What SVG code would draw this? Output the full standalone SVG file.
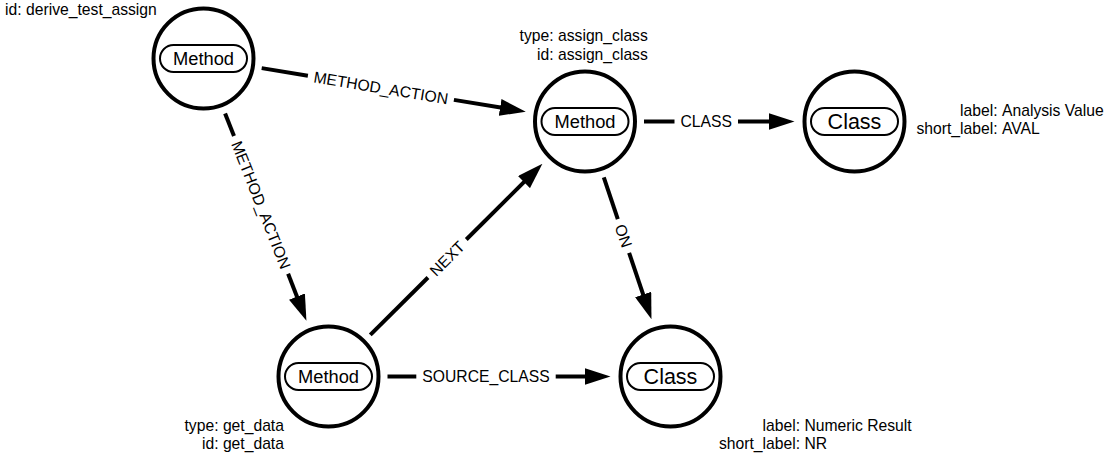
<svg xmlns="http://www.w3.org/2000/svg" width="1110" height="456" viewBox="0 0 1110 456">
<style>
text{font-family:"Liberation Sans",Arial,sans-serif;fill:#000}
.ring{fill:#fff;stroke:#000;stroke-width:4}
.pill{fill:#fff;stroke:#000;stroke-width:2}
.m{font-size:18.3px;text-anchor:middle}
.c{font-size:21.5px;text-anchor:middle}
.p{font-size:15.7px}
.k{text-anchor:end}
.el{font-size:15.7px;text-anchor:middle}
.e{stroke:#000;stroke-width:4;fill:none}
</style>
<defs>
<marker id="ah" viewBox="0 0 26 17" refX="2" refY="8.5" markerWidth="26" markerHeight="17" markerUnits="userSpaceOnUse" orient="auto">
<path d="M0,0 L26,8.5 L0,17 Z" fill="#000"/>
</marker>
</defs>
<rect width="1110" height="456" fill="#fff"/>
<g id="connectors">
<g id="e1">
<line class="e" x1="261.7" y1="68.1" x2="307.9" y2="75.7"/>
<line class="e" x1="453.9" y1="99.9" x2="502.1" y2="107.8" marker-end="url(#ah)"/>
<text class="el" transform="translate(380.9,87.8) rotate(9.38)" dy=".35em">METHOD_ACTION</text>
</g>
<g id="e2">
<line class="e" x1="225.1" y1="113.4" x2="234.0" y2="136.1"/>
<line class="e" x1="288.1" y1="273.8" x2="297.7" y2="298.4" marker-end="url(#ah)"/>
<text class="el" transform="translate(261.05,204.95) rotate(68.5)" dy=".35em">METHOD_ACTION</text>
</g>
<g id="e3">
<line class="e" x1="370.3" y1="334.9" x2="428.0" y2="277.5"/>
<line class="e" x1="466.3" y1="239.5" x2="525.4" y2="180.7" marker-end="url(#ah)"/>
<text class="el" transform="translate(447.2,258.5) rotate(-44.8)" dy=".35em">NEXT</text>
</g>
<g id="e4">
<line class="e" x1="644" y1="121.5" x2="674.5" y2="121.5"/>
<line class="e" x1="738" y1="121.5" x2="770.5" y2="121.5" marker-end="url(#ah)"/>
<text class="el" x="706.25" y="121.5" dy=".35em">CLASS</text>
</g>
<g id="e5">
<line class="e" x1="603.8" y1="177.4" x2="617.8" y2="219.1"/>
<line class="e" x1="629.1" y1="252.8" x2="643.8" y2="296.4" marker-end="url(#ah)"/>
<text class="el" transform="translate(623.45,235.95) rotate(71.4)" dy=".35em">ON</text>
</g>
<g id="e6">
<line class="e" x1="387.5" y1="376.5" x2="416.3" y2="376.5"/>
<line class="e" x1="555.7" y1="376.5" x2="586.5" y2="376.5" marker-end="url(#ah)"/>
<text class="el" x="486" y="376.5" dy=".35em">SOURCE_CLASS</text>
</g>
</g>
<g id="n1">
<circle class="ring" cx="203.5" cy="58.5" r="50"/>
<rect class="pill" x="160" y="45" width="87" height="27" rx="13.5"/>
<text class="m" x="203.5" y="58.5" dy=".35em">Method</text>
<text class="p k" x="21.6" y="15">id:</text>
<text class="p" x="26" y="15">derive_test_assign</text>
</g>
<g id="n2">
<circle class="ring" cx="585" cy="121.5" r="50"/>
<rect class="pill" x="541.5" y="108" width="87" height="27" rx="13.5"/>
<text class="m" x="585" y="121.5" dy=".35em">Method</text>
<text class="p k" x="553.6" y="41">type:</text>
<text class="p" x="558" y="41">assign_class</text>
<text class="p k" x="553.6" y="59.5">id:</text>
<text class="p" x="558" y="59.5">assign_class</text>
</g>
<g id="n3">
<circle class="ring" cx="854.5" cy="121.5" r="50"/>
<rect class="pill" x="811" y="108" width="87" height="27" rx="13.5"/>
<text class="c" x="854.5" y="121.5" dy=".35em">Class</text>
<text class="p k" x="997.6" y="115.5">label:</text>
<text class="p" x="1002" y="115.5">Analysis Value</text>
<text class="p k" x="997.6" y="134">short_label:</text>
<text class="p" x="1002" y="134">AVAL</text>
</g>
<g id="n4">
<circle class="ring" cx="328.5" cy="376.5" r="50"/>
<rect class="pill" x="285" y="363" width="87" height="27" rx="13.5"/>
<text class="m" x="328.5" y="376.5" dy=".35em">Method</text>
<text class="p k" x="218.5" y="430.5">type:</text>
<text class="p" x="222.9" y="430.5">get_data</text>
<text class="p k" x="218.5" y="448.5">id:</text>
<text class="p" x="222.9" y="448.5">get_data</text>
</g>
<g id="n5">
<circle class="ring" cx="670.5" cy="376.5" r="50"/>
<rect class="pill" x="627" y="363" width="87" height="27" rx="13.5"/>
<text class="c" x="670.5" y="376.5" dy=".35em">Class</text>
<text class="p k" x="800" y="431">label:</text>
<text class="p" x="804.4" y="431">Numeric Result</text>
<text class="p k" x="800" y="449">short_label:</text>
<text class="p" x="804.4" y="449">NR</text>
</g>
</svg>
